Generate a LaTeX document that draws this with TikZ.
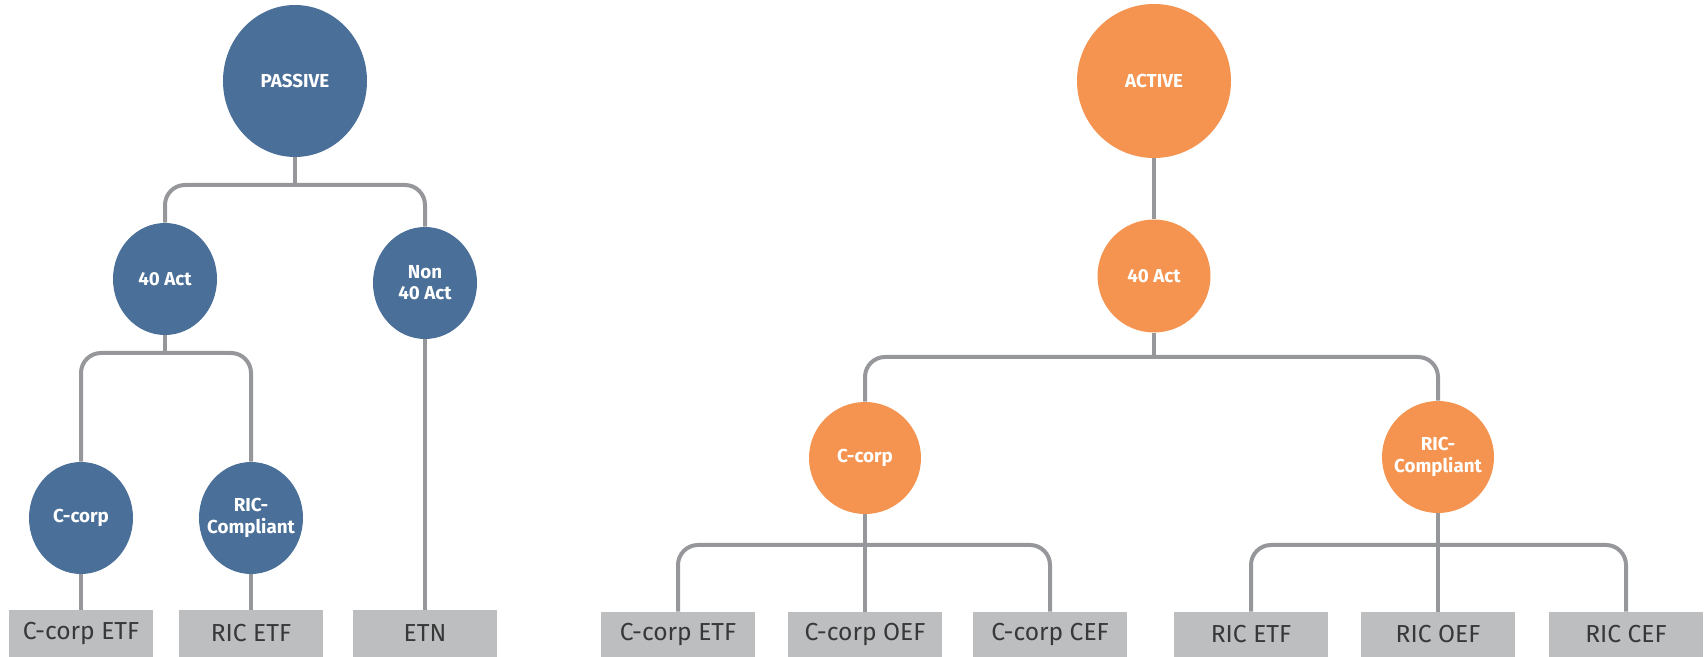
\documentclass[tikz,border=0pt]{standalone}
\usepackage{fontspec}
\setmainfont{Fira Sans}
\usetikzlibrary{shapes.geometric}
\definecolor{passiveblue}{HTML}{4A6F98}
\definecolor{activeorange}{HTML}{F49450}
\definecolor{linkgray}{HTML}{96979A}
\definecolor{boxgray}{HTML}{BDBEC0}
\definecolor{fundtext}{HTML}{383838}
\begin{document}
\begin{tikzpicture}[x=0.5pt, y=-0.5pt,
		dot/.style={ellipse, inner sep=-4pt, text=white, align=center, font=\bfseries\fontsize{9.4}{10.6}\selectfont},
		pdot/.style={dot, fill=passiveblue},
		adot/.style={dot, fill=activeorange},
		fund/.style={rectangle, fill=boxgray, inner sep=0pt, text=fundtext, font=\fontsize{12.3}{14}\selectfont},
		link/.style={draw=linkgray, line width=2pt, rounded corners=10pt}]
		\useasboundingbox (0, 0) rectangle (1704, 657);
		% passive tree
		\node[pdot, minimum width=72pt, minimum height=76pt] (passive) at (295, 81) {PASSIVE};
		\node[pdot, minimum width=52pt, minimum height=56pt] (act40p) at (165, 279) {40 Act};
		\node[pdot, minimum width=52pt, minimum height=56pt] (non40) at (425, 283) {Non\\40 Act};
		\node[pdot, minimum width=52pt, minimum height=56pt] (ccorpp) at (81, 518) {C-corp};
		\node[pdot, minimum width=52pt, minimum height=56pt] (ricp) at (251, 518) {RIC-\\Compliant};
		\node[fund, minimum width=72pt, minimum height=23.5pt] (cetfp) at (81, 633.5) {C-corp ETF};
		\node[fund, minimum width=72pt, minimum height=23.5pt] (retfp) at (251, 633.5) {RIC ETF};
		\node[fund, minimum width=72pt, minimum height=23.5pt] (etn) at (425, 633.5) {ETN};
		\coordinate (pbar) at (295, 185);
		\coordinate (pbar2) at (165, 353);
		\draw[link] (passive) -- (pbar);
		\draw[link] (act40p) |- (pbar) -| (non40);
		\draw[link] (act40p) -- (pbar2);
		\draw[link] (ccorpp) |- (pbar2) -| (ricp);
		\draw[link] (ccorpp) -- (cetfp);
		\draw[link] (ricp) -- (retfp);
		\draw[link] (non40) -- (etn);
		% active tree
		\node[adot, minimum size=77pt] (active) at (1154, 81) {ACTIVE};
		\node[adot, minimum size=56.5pt] (act40a) at (1154, 276) {40 Act};
		\node[adot, minimum size=56pt] (ccorpa) at (865, 458) {C-corp};
		\node[adot, minimum size=56pt] (rica) at (1438, 457) {RIC-\\Compliant};
		\node[fund, minimum width=77pt, minimum height=22.5pt] (cetfa) at (678, 634.5) {C-corp ETF};
		\node[fund, minimum width=77pt, minimum height=22.5pt] (coefa) at (865, 634.5) {C-corp OEF};
		\node[fund, minimum width=77pt, minimum height=22.5pt] (ccefa) at (1050, 634.5) {C-corp CEF};
		\node[fund, minimum width=77pt, minimum height=22.5pt] (retfa) at (1251, 634.5) {RIC ETF};
		\node[fund, minimum width=77pt, minimum height=22.5pt] (roefa) at (1438, 634.5) {RIC OEF};
		\node[fund, minimum width=77pt, minimum height=22.5pt] (rcefa) at (1626, 634.5) {RIC CEF};
		\coordinate (abar) at (1154, 357);
		\coordinate (cbar) at (865, 545);
		\coordinate (rbar) at (1438, 545);
		\draw[link] (active) -- (act40a);
		\draw[link] (act40a) -- (abar);
		\draw[link] (ccorpa) |- (abar) -| (rica);
		\draw[link] (ccorpa) -- (coefa);
		\draw[link] (cetfa) |- (cbar) -| (ccefa);
		\draw[link] (rica) -- (roefa);
		\draw[link] (retfa) |- (rbar) -| (rcefa);
	\end{tikzpicture}
\end{document}
